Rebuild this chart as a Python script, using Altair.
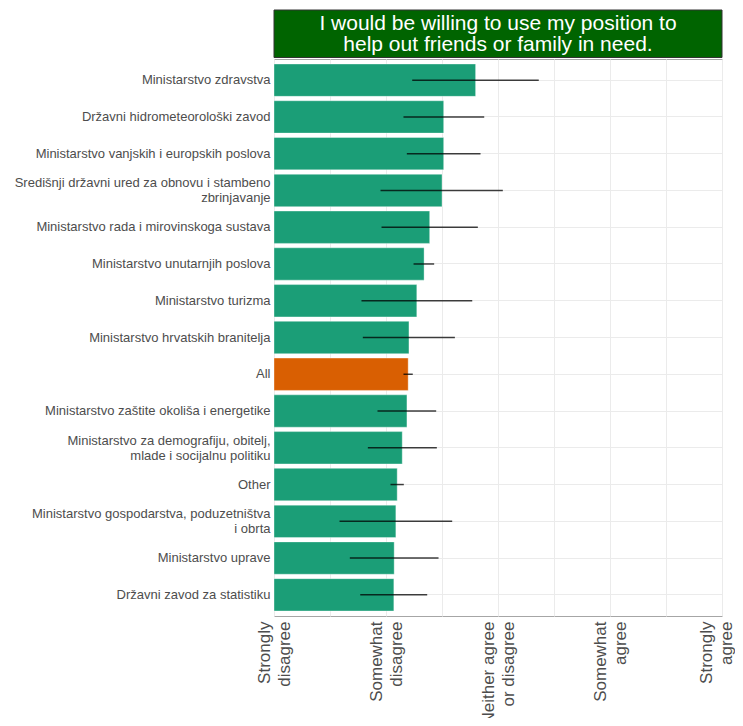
import altair as alt
import pandas as pd

categories = [
    "Ministarstvo zdravstva",
    "Državni hidrometeorološki zavod",
    "Ministarstvo vanjskih i europskih poslova",
    "Središnji državni ured za obnovu i stambeno|zbrinjavanje",
    "Ministarstvo rada i mirovinskoga sustava",
    "Ministarstvo unutarnjih poslova",
    "Ministarstvo turizma",
    "Ministarstvo hrvatskih branitelja",
    "All",
    "Ministarstvo zaštite okoliša i energetike",
    "Ministarstvo za demografiju, obitelj,|mlade i socijalnu politiku",
    "Other",
    "Ministarstvo gospodarstva, poduzetništva|i obrta",
    "Ministarstvo uprave",
    "Državni zavod za statistiku",
]
means = [2.80, 2.515, 2.515, 2.50, 2.39, 2.34, 2.275, 2.205, 2.198, 2.187, 2.145, 2.10, 2.088, 2.073, 2.07]
lows = [2.234, 2.156, 2.186, 1.951, 1.960, 2.246, 1.781, 1.793, 2.156, 1.924, 1.838, 2.040, 1.585, 1.677, 1.770]
highs = [3.364, 2.877, 2.844, 3.043, 2.820, 2.430, 2.770, 2.615, 2.239, 2.448, 2.454, 2.159, 2.591, 2.469, 2.368]
groups = ["All" if c == "All" else "Ministry" for c in categories]

tick_values = [1, 2, 3, 4, 5]
tick_labels = [["Strongly", "disagree"], ["Somewhat", "disagree"], ["Neither agree", "or disagree"],
               ["Somewhat", "agree"], ["Strongly", "agree"]]
title_lines = ["I would be willing to use my position to", "help out friends or family in need."]

df = pd.DataFrame({"cat": categories, "mean": means, "lo": lows, "hi": highs, "grp": groups})

label_expr = ""
for v, lab in zip(tick_values, tick_labels):
    label_expr += f"datum.value == {v} ? ['{lab[0]}', '{lab[1]}'] : "
label_expr += "''"

grid_values = [1, 1.5, 2, 2.5, 3, 3.5, 4, 4.5, 5]

xscale = alt.Scale(domain=[1, 5], nice=False, zero=False)
yscale = alt.Scale(paddingInner=0.12, paddingOuter=0.136)

base = alt.Chart(df)

bars = base.mark_bar(stroke="white", strokeWidth=0.6, strokeOpacity=0.6).encode(
    x=alt.X("mean:Q", scale=xscale, title=None,
            axis=alt.Axis(values=grid_values, labelExpr=label_expr, labelAngle=270,
                          labelAlign="right", labelBaseline="middle", labelFontSize=17,
                          labelLineHeight=20, labelColor="#4d4d4d", labelPadding=5,
                          labelOffset={"condition": {"test": "datum.value == 5", "value": -16},
                                       "value": -10},
                          ticks=False, domain=False, grid=True, gridColor="#ebebeb",
                          labelOverlap=False, labelFlush=False)),
    x2=alt.datum(1),
    y=alt.Y("cat:N", sort=categories, scale=yscale, title=None,
            axis=alt.Axis(labelExpr="split(datum.label, '|')", labelFontSize=13,
                          labelColor="#4d4d4d", labelLineHeight=15, labelPadding=4,
                          labelOffset={"condition": {"test": "indexof(datum.label, '|') >= 0", "value": -7},
                                       "value": 0},
                          ticks=False, domain=False, grid=True, gridColor="#ebebeb",
                          bandPosition=0.5, labelLimit=400)),
    color=alt.Color("grp:N", scale=alt.Scale(domain=["Ministry", "All"], range=["#1b9e77", "#d95f02"]),
                    legend=None),
)

errs = base.mark_rule(color="black", strokeWidth=1.5, opacity=0.75).encode(
    x=alt.X("lo:Q", scale=xscale),
    x2="hi:Q",
    y=alt.Y("cat:N", sort=categories, scale=yscale),
)

title_df = pd.DataFrame({"t": [title_lines]})
strip = alt.Chart(title_df).mark_rect(fill="#006400", stroke="#333333", strokeWidth=1).encode(
    x=alt.value(0), x2=alt.value(448), y=alt.value(-49), y2=alt.value(-1.5)
)
strip_text = alt.Chart(title_df).mark_text(
    color="white", fontSize=21, lineHeight=21, align="center", baseline="middle"
).encode(x=alt.value(224), y=alt.value(-35), text="t")

chart = alt.layer(bars, errs, strip, strip_text).properties(
    width=448, height=557,
    autosize=alt.AutoSizeParams(type="none"),
    padding={"left": 266, "top": 51, "right": 13, "bottom": 102},
).configure(font="Liberation Sans").configure_view(stroke="#a6a6a6", strokeWidth=1)

chart.save("out.html", embed_options={"renderer": "svg", "actions": False})
